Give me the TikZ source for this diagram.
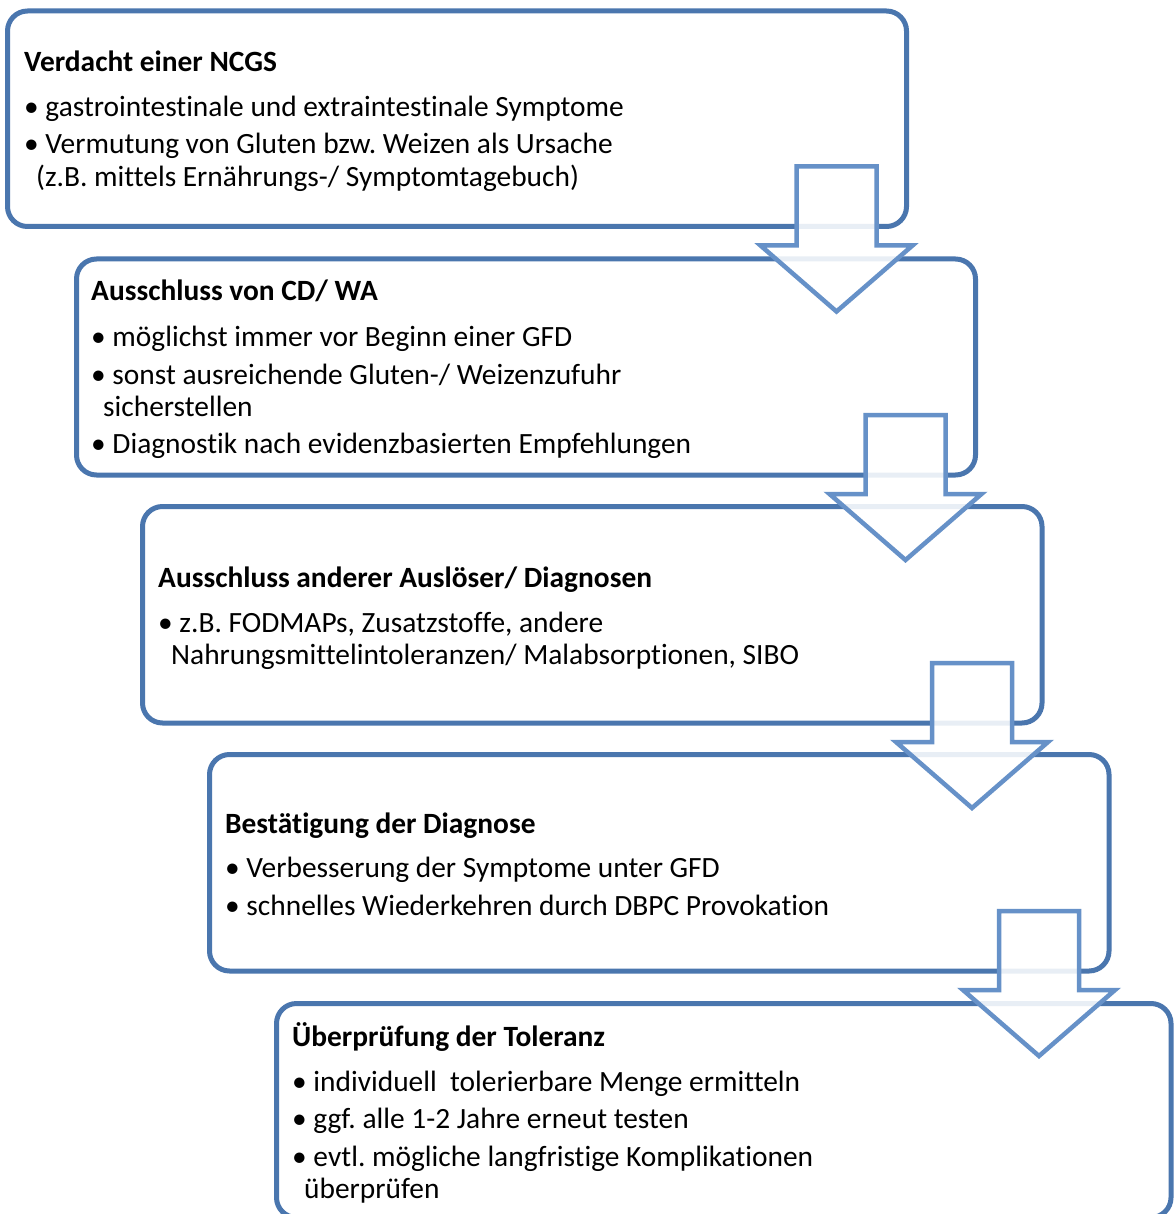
\documentclass[tikz,border=0pt]{standalone}
\usepackage{fontspec}
\setmainfont[Ligatures=NoCommon]{Carlito}
\usetikzlibrary{calc}
\frenchspacing
\definecolor{boxblue}{RGB}{74,118,174}
\definecolor{arrowblue}{RGB}{102,145,200}
\tikzset{
  stage/.style={draw=boxblue, line width=5pt, rounded corners=20pt, fill=white,
    rectangle, inner sep=0pt, outer sep=0pt, anchor=north west},
  title/.style={anchor=base west, inner sep=0pt, font=\fontsize{29.4}{35}\selectfont\bfseries\frenchspacing},
  item/.style={anchor=base west, inner sep=0pt, font=\fontsize{29.4}{35}\selectfont\frenchspacing},
  blockarrow/.style={draw=arrowblue, line width=4.5pt, fill=white, fill opacity=0.88,
    line join=miter}
}
\newcommand{\stagearrow}[2]{%
  \draw[blockarrow]
    ($(#1.south east)+(-110,-60)$) -- ($(#1.south east)+(-30,-60)$)
    -- ($(#1.south east)+(-30,19)$) -- ($(#1.south east)+(6,19)$)
    -- ($(#1.south east)+(-70,85)$) coordinate (#2)
    -- ($(#1.south east)+(-146,19)$) -- ($(#1.south east)+(-110,19)$) -- cycle;}
\begin{document}
\begin{tikzpicture}[x=1pt,y=-1pt]
\useasboundingbox (0,0) rectangle (1174,1214);
\fill[white] (0,0) rectangle (1174,1214);
% boxes
\node[stage, minimum width=899pt, minimum height=215.5pt] (b1) at (7.5,11) {};
\node[stage, minimum width=899pt, minimum height=216pt] (b2) at (76.5,259) {};
\node[stage, minimum width=899.5pt, minimum height=216.5pt] (b3) at (142.5,506.5) {};
\node[stage, minimum width=899.5pt, minimum height=216.5pt] (b4) at (209.5,754.5) {};
\node[stage, minimum width=894.5pt, minimum height=214pt] (b5) at (276.5,1003.5) {};
% box 1
\node[title] (t1) at (24,72) {Verdacht einer NCGS};
\node[item] (t1a) at (24,117) {• gastrointestinale und extraintestinale Symptome};
\node[item] (t1b) at (24,154) {• Vermutung von Gluten bzw. Weizen als Ursache};
\node[item] (t1c) at (36,187) {(z.B. mittels Ernährungs-/ Symptomtagebuch)};
% box 2
\node[title] (t2) at (91,301) {Ausschluss von CD/ WA};
\node[item] (t2a) at (91,346) {• möglichst immer vor Beginn einer GFD};
\node[item] (t2b) at (91,384) {• sonst ausreichende Gluten-/ Weizenzufuhr};
\node[item] (t2c) at (103,416) {sicherstellen};
\node[item] (t2d) at (91,453) {• Diagnostik nach evidenzbasierten Empfehlungen};
% box 3
\node[title] (t3) at (158,587) {Ausschluss anderer Auslöser/ Diagnosen};
\node[item] (t3a) at (158,632) {• z.B. FODMAPs, Zusatzstoffe, andere};
\node[item] (t3b) at (171,664) {Nahrungsmittelintoleranzen/ Malabsorptionen, SIBO};
% box 4
\node[title] (t4) at (225,833) {Bestätigung der Diagnose};
\node[item] (t4a) at (225,877) {• Verbesserung der Symptome unter GFD};
\node[item] (t4b) at (225,915) {• schnelles Wiederkehren durch DBPC Provokation};
% box 5
\node[title] (t5) at (292,1046) {Überprüfung der Toleranz};
\node[item] (t5a) at (292,1091) {• individuell\ \ tolerierbare Menge ermitteln};
\node[item] (t5b) at (292,1128) {• ggf. alle 1-2 Jahre erneut testen};
\node[item] (t5c) at (292,1166) {•\ evtl. mögliche langfristige Komplikationen};
\node[item] (t5d) at (304,1198) {überprüfen};
% arrows
\stagearrow{b1}{a1}
\stagearrow{b2}{a2}
\stagearrow{b3}{a3}
\stagearrow{b4}{a4}
\end{tikzpicture}
\end{document}
